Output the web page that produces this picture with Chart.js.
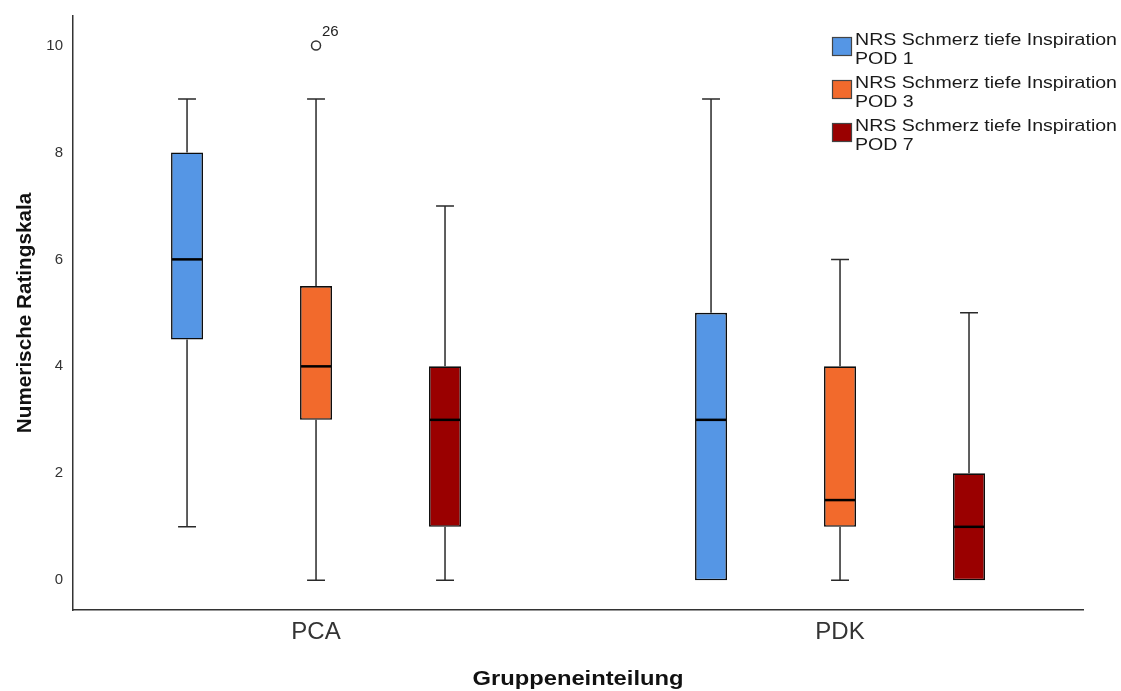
<!DOCTYPE html>
<html lang="de">
<head>
<meta charset="UTF-8">
<script src="https://cdn.jsdelivr.net/npm/chart.js"></script>
<title>Boxplot NRS</title>
<style>
  body { margin: 0; background: #fff; }
  .wrap { width: 1121px; height: 691px; }
</style>
</head>
<body>
<div class="wrap"><canvas id="boxChart"></canvas></div>
<script>
  // Gruppen und Kennwerte
  var gruppen = ['PCA', 'PDK'];
  var serien = ['NRS Schmerz tiefe Inspiration POD 1', 'NRS Schmerz tiefe Inspiration POD 3', 'NRS Schmerz tiefe Inspiration POD 7'];
  var farben = ['#5596e5', '#f26a2c', '#9a0000'];

  var pod1Min = [1, 0], pod1Q1 = [4.5, 0], pod1Median = [6, 3], pod1Q3 = [8, 5], pod1Max = [9, 9];
  var pod3Min = [0, 0], pod3Q1 = [3, 1], pod3Median = [4, 1.5], pod3Q3 = [5.5, 4], pod3Max = [9, 6];
  var pod7Min = [0, 0], pod7Q1 = [1, 0], pod7Median = [3, 1], pod7Q3 = [4, 2], pod7Max = [7, 5];

  var pod1Ausreisser = [[], []];
  var pod3Ausreisser = [[10], []];
  var pod3AusreisserNr = [['26'], []];
  var pod7Ausreisser = [[], []];

  var yTicks = [0, 2, 4, 6, 8, 10];
  var xTitel = 'Gruppeneinteilung';

  function box(label, farbe, mins, q1, med, q3, maxs, aus, ausNr) {
    return {
      label: label,
      data: q1.map((v, i) => [v, q3[i]]),
      backgroundColor: farbe,
      borderColor: '#0d0d0d',
      borderWidth: 1.6,
      borderSkipped: false,
      whiskerMin: mins,
      whiskerMax: maxs,
      median: med,
      ausreisser: aus,
      ausreisserNr: ausNr || [[], []]
    };
  }

  const boxPlugin = {
    id: 'boxPlugin',
    afterDatasetsDraw(chart) {
      const ctx = chart.ctx;
      const y = chart.scales.y;
      chart.data.datasets.forEach((ds, di) => {
        const meta = chart.getDatasetMeta(di);
        meta.data.forEach((bar, i) => {
          const x = bar.x;
          const half = bar.width / 2;
          const cap = bar.width * 0.28;
          const q1 = ds.data[i][0], q3 = ds.data[i][1];
          ctx.save();
          ctx.strokeStyle = '#2a2a2a';
          ctx.lineWidth = 1.5;
          ctx.beginPath();
          if (ds.whiskerMax[i] > q3) {
            ctx.moveTo(x, y.getPixelForValue(q3));
            ctx.lineTo(x, y.getPixelForValue(ds.whiskerMax[i]));
            ctx.moveTo(x - cap, y.getPixelForValue(ds.whiskerMax[i]));
            ctx.lineTo(x + cap, y.getPixelForValue(ds.whiskerMax[i]));
          }
          if (ds.whiskerMin[i] < q1) {
            ctx.moveTo(x, y.getPixelForValue(q1));
            ctx.lineTo(x, y.getPixelForValue(ds.whiskerMin[i]));
            ctx.moveTo(x - cap, y.getPixelForValue(ds.whiskerMin[i]));
            ctx.lineTo(x + cap, y.getPixelForValue(ds.whiskerMin[i]));
          }
          ctx.stroke();
          // Median
          ctx.strokeStyle = '#000';
          ctx.lineWidth = 2.5;
          ctx.beginPath();
          ctx.moveTo(x - half + 1, y.getPixelForValue(ds.median[i]));
          ctx.lineTo(x + half - 1, y.getPixelForValue(ds.median[i]));
          ctx.stroke();
          // Ausreisser
          ds.ausreisser[i].forEach((v, k) => {
            const py = y.getPixelForValue(v);
            ctx.beginPath();
            ctx.arc(x, py, 4.5, 0, Math.PI * 2);
            ctx.fillStyle = '#fff';
            ctx.fill();
            ctx.strokeStyle = '#333';
            ctx.lineWidth = 1.5;
            ctx.stroke();
            ctx.fillStyle = '#222';
            ctx.font = '15px "Liberation Sans", Arial, sans-serif';
            ctx.textBaseline = 'middle';
            ctx.textAlign = 'left';
            ctx.fillText(ds.ausreisserNr[i][k], x + 6, py - 14);
          });
          ctx.restore();
        });
      });
    }
  };

  const legendPlugin = {
    id: 'legendPlugin',
    afterDraw(chart) {
      const ctx = chart.ctx;
      const x0 = 832, y0 = 37;
      ctx.save();
      ctx.font = '16.5px "Liberation Sans", Arial, sans-serif';
      ctx.textBaseline = 'alphabetic';
      ctx.textAlign = 'left';
      chart.data.datasets.forEach((ds, i) => {
        const top = y0 + i * 43;
        ctx.fillStyle = ds.backgroundColor;
        ctx.fillRect(x0, top, 20, 19);
        ctx.strokeStyle = '#444';
        ctx.lineWidth = 1.2;
        ctx.strokeRect(x0 + 0.5, top + 0.5, 19, 18);
        const worte = ds.label.split(' ');
        const z1 = worte.slice(0, 4).join(' ');
        const z2 = worte.slice(4).join(' ');
        const sx = 262 / ctx.measureText(z1).width;
        ctx.fillStyle = '#1a1a1a';
        ctx.save();
        ctx.translate(x0 + 23, 0);
        ctx.scale(sx, 1);
        ctx.fillText(z1, 0, top + 8);
        ctx.fillText(z2, 0, top + 26.5);
        ctx.restore();
      });

      // x-Achsentitel (breit gezogen wie im Original)
      const area = chart.chartArea;
      ctx.font = 'bold 21px "Liberation Sans", Arial, sans-serif';
      ctx.fillStyle = '#111';
      ctx.textAlign = 'center';
      const sxT = 211 / ctx.measureText(xTitel).width;
      ctx.translate((area.left + area.right) / 2, 685);
      ctx.scale(sxT, 1);
      ctx.fillText(xTitel, 0, 0);
      ctx.restore();
    }
  };

  const ctx = document.getElementById('boxChart');
  new Chart(ctx, {
    type: 'bar',
    data: {
      labels: gruppen,
      datasets: [
        box(serien[0], farben[0], pod1Min, pod1Q1, pod1Median, pod1Q3, pod1Max, pod1Ausreisser),
        box(serien[1], farben[1], pod3Min, pod3Q1, pod3Median, pod3Q3, pod3Max, pod3Ausreisser, pod3AusreisserNr),
        box(serien[2], farben[2], pod7Min, pod7Q1, pod7Median, pod7Q3, pod7Max, pod7Ausreisser)
      ]
    },
    options: {
      responsive: true,
      maintainAspectRatio: false,
      animation: false,
      categoryPercentage: 0.7385,
      barPercentage: 0.248,
      layout: { padding: { top: 16, right: 38, left: 0, bottom: 0 } },
      plugins: {
        legend: { display: false },
        tooltip: { enabled: false }
      },
      scales: {
        x: {
          grid: { display: false, drawTicks: false },
          border: { display: true, color: '#333', width: 1.5 },
          ticks: { color: '#333', padding: 8, font: { family: '"Liberation Sans", Arial, sans-serif', size: 24 } },
          afterBuildTicks: s => { s._startValue = -0.4638; s._valueRange = 1.9275; },
          afterFit: s => { s.height = 81; s.paddingLeft = 0; s.paddingRight = 0; }
        },
        y: {
          min: -0.555,
          max: 10.55,
          grid: { display: false, drawTicks: false },
          border: { display: true, color: '#333', width: 1.5 },
          ticks: {
            stepSize: 2, includeBounds: false, padding: 10, color: '#333',
            font: { family: '"Liberation Sans", Arial, sans-serif', size: 15 }
          },
          afterBuildTicks: s => { s.ticks = yTicks.map(v => ({ value: v })); },
          title: {
            display: true, text: 'Numerische Ratingskala', color: '#111',
            font: { family: '"Liberation Sans", Arial, sans-serif', size: 20.7, weight: 'bold' },
            padding: { top: 13, bottom: 8 }
          },
          afterFit: s => { s.width = 73; s.paddingTop = 0; s.paddingBottom = 0; }
        }
      }
    },
    plugins: [boxPlugin, legendPlugin]
  });
</script>
</body>
</html>
